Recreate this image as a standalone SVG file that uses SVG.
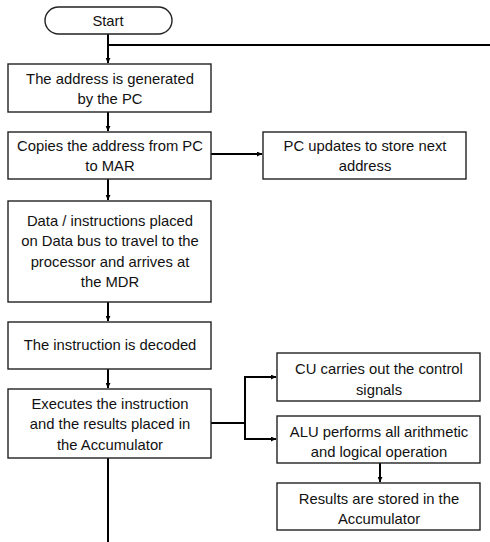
<svg xmlns="http://www.w3.org/2000/svg" width="490" height="542" viewBox="0 0 490 542">
<defs>
<marker id="ah" viewBox="0 0 10 10" refX="10" refY="5" markerWidth="5" markerHeight="5" orient="auto" markerUnits="userSpaceOnUse">
<path d="M0,0 L10,5 L0,10 z" fill="#000"/>
</marker>
<style>
.box{fill:#fff;stroke:#222;stroke-width:1.4}
.t{font-family:"Liberation Sans",Arial,sans-serif;font-size:14.8px;fill:#111;text-anchor:middle}
.c{fill:none;stroke:#000;stroke-width:2}
</style>
</defs>
<rect width="490" height="542" fill="#fff"/>
<g id="connectors">
<path class="c" d="M108,34 V63" marker-end="url(#ah)"/>
<path class="c" d="M108,45 H490"/>
<path class="c" d="M108,112 V131" marker-end="url(#ah)"/>
<path class="c" d="M211,154 H262" marker-end="url(#ah)"/>
<path class="c" d="M108,179 V200" marker-end="url(#ah)"/>
<path class="c" d="M108,302 V321" marker-end="url(#ah)"/>
<path class="c" d="M108,369 V388" marker-end="url(#ah)"/>
<path class="c" d="M211,423 H245"/>
<path class="c" d="M245,377 V439"/>
<path class="c" d="M244,377 H276" marker-end="url(#ah)"/>
<path class="c" d="M244,439 H276" marker-end="url(#ah)"/>
<path class="c" d="M380,463 V482" marker-end="url(#ah)"/>
<path class="c" d="M108,458 V542"/>
</g>
<g id="start">
<rect class="box" x="45" y="7" width="127" height="27" rx="13.5"/>
<text class="t" x="108" y="26">Start</text>
</g>
<g id="n1">
<rect class="box" x="8" y="64" width="203" height="48"/>
<text class="t" x="110" y="84">The address is generated</text>
<text class="t" x="110" y="104">by the PC</text>
</g>
<g id="n2">
<rect class="box" x="8" y="132" width="203" height="47"/>
<text class="t" x="110" y="151">Copies the address from PC</text>
<text class="t" x="110" y="171">to MAR</text>
</g>
<g id="n3">
<rect class="box" x="263" y="132" width="203" height="47"/>
<text class="t" x="365" y="151">PC updates to store next</text>
<text class="t" x="365" y="171">address</text>
</g>
<g id="n4">
<rect class="box" x="8" y="201" width="203" height="101"/>
<text class="t" x="110" y="225.5">Data / instructions placed</text>
<text class="t" x="110" y="246">on Data bus to travel to the</text>
<text class="t" x="110" y="266.5">processor and arrives at</text>
<text class="t" x="110" y="287">the MDR</text>
</g>
<g id="n5">
<rect class="box" x="8" y="322" width="203" height="47"/>
<text class="t" x="110" y="350">The instruction is decoded</text>
</g>
<g id="n6">
<rect class="box" x="8" y="389" width="203" height="69"/>
<text class="t" x="110" y="408.5">Executes the instruction</text>
<text class="t" x="110" y="429">and the results placed in</text>
<text class="t" x="110" y="449.5">the Accumulator</text>
</g>
<g id="n7">
<rect class="box" x="277" y="353" width="203" height="48"/>
<text class="t" x="379" y="373.5">CU carries out the control</text>
<text class="t" x="379" y="394.5">signals</text>
</g>
<g id="n8">
<rect class="box" x="277" y="416" width="203" height="47"/>
<text class="t" x="379" y="436.5">ALU performs all arithmetic</text>
<text class="t" x="379" y="456.5">and logical operation</text>
</g>
<g id="n9">
<rect class="box" x="277" y="483" width="203" height="47"/>
<text class="t" x="379" y="503.5">Results are stored in the</text>
<text class="t" x="379" y="523.5">Accumulator</text>
</g>
</svg>
